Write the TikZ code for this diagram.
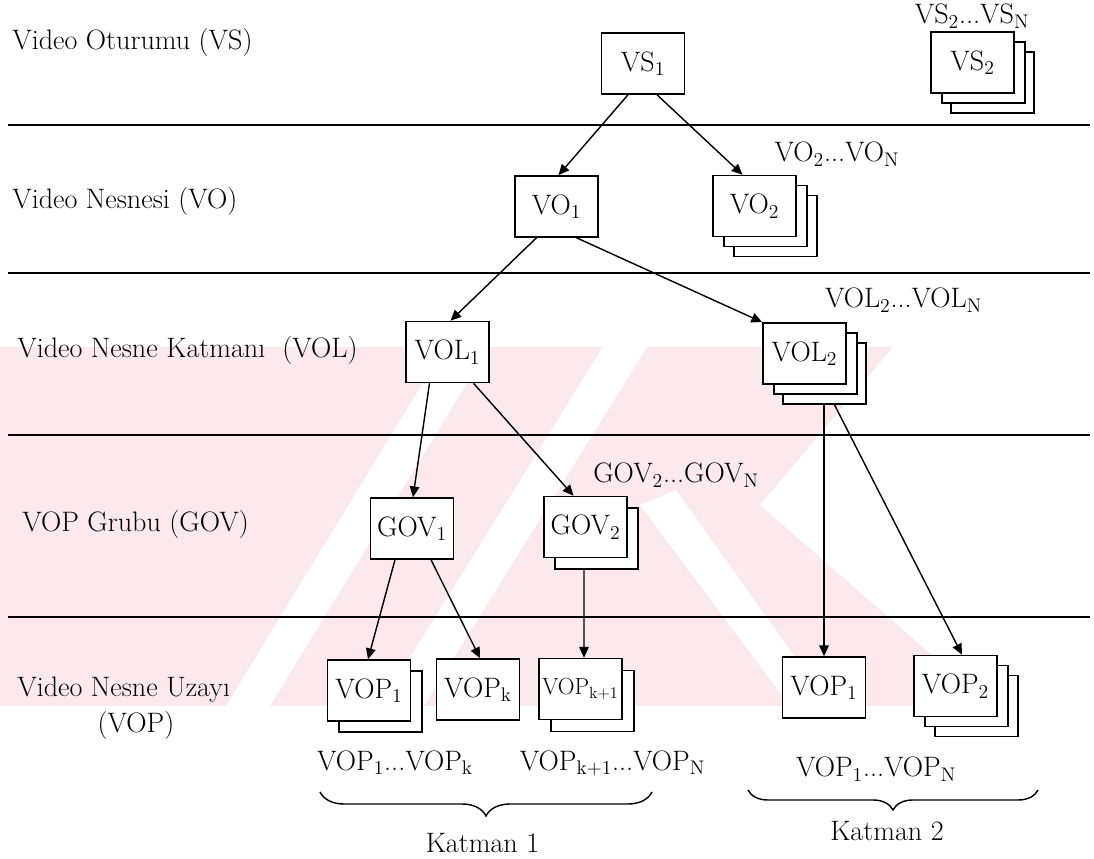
\documentclass[tikz,border=0pt]{standalone}
\usetikzlibrary{arrows.meta,decorations.pathreplacing,calc}
\definecolor{wmpink}{RGB}{252,233,237}
\begin{document}
\begin{tikzpicture}[x=0.025cm,y=-0.025cm,
  lbl/.style={font=\fontsize{20}{24}\selectfont, inner sep=0pt},
  txt/.style={font=\fontsize{20}{24}\selectfont, inner sep=0pt},
  bx/.style={draw, fill=white, line width=1.1pt, minimum width=2.075cm, minimum height=1.525cm, inner sep=0pt, font=\fontsize{20}{24}\selectfont},
  arr/.style={line width=1pt, -{Triangle[length=0.27cm,width=0.24cm]}},
  sep/.style={line width=1.1pt},
  brc/.style={line width=1pt, decorate, decoration={brace, mirror, amplitude=#1}},
  wm/.style={fill=wmpink, draw=none},
  wmgap/.style={fill=white, draw=none},
]
\useasboundingbox (0,0) rectangle (1094,859);

% faint watermark in the background
\fill[wm] (0,347) -- (893,347) -- (760,505) -- (990,706) -- (0,706) -- cycle;
\fill[wmgap] (226,706) -- (270,706) -- (489,347) -- (445,347) -- cycle;
\fill[wmgap] (380,706) -- (424,706) -- (647,347) -- (603,347) -- cycle;
\fill[wmgap] (640,505) -- (676,490) -- (830,706) -- (790,706) -- cycle;

% separator lines
\coordinate (h1l) at (8,125);  \coordinate (h1r) at (1090,125);
\coordinate (h2l) at (8,273);  \coordinate (h2r) at (1090,273);
\coordinate (h3l) at (8,435);  \coordinate (h3r) at (1090,435);
\coordinate (h4l) at (8,617);  \coordinate (h4r) at (1090,617);
\draw[sep] (h1l) -- (h1r);
\draw[sep] (h2l) -- (h2r);
\draw[sep] (h3l) -- (h3r);
\draw[sep] (h4l) -- (h4r);

% level labels
\node[lbl, anchor=west] (l1) at (12,42) {Video Oturumu (VS)};
\node[lbl, anchor=west] (l2) at (12,201) {Video Nesnesi (VO)};
\node[lbl, anchor=west] (l3) at (17,350) {Video Nesne Katmanı\ \ (VOL)};
\node[lbl, anchor=west] (l4) at (22,524) {VOP Grubu (GOV)};
\node[lbl, anchor=west] (l5) at (17,690) {Video Nesne Uzayı};
\node[lbl] (l6) at (136,725) {(VOP)};

% VS level
\node[bx] (vs1) at (643,63.5) {VS\textsubscript{1}};
\node[bx] (vs2c) at (992.5,82.5) {};
\node[bx] (vs2b) at (983.5,72.5) {};
\node[bx] (vs2) at (972.5,62.5) {VS\textsubscript{2}};
\node[txt, anchor=base] (vs2t) at (972,24) {VS\textsubscript{2}...VS\textsubscript{N}};

% VO level
\node[bx] (vo1) at (556.5,206.5) {VO\textsubscript{1}};
\node[bx] (vo2c) at (775.5,226) {};
\node[bx] (vo2b) at (765.5,216) {};
\node[bx] (vo2) at (754.5,206) {VO\textsubscript{2}};
\node[txt, anchor=base] (vo2t) at (837,162) {VO\textsubscript{2}...VO\textsubscript{N}};

% VOL level
\node[bx] (vol1) at (447.5,352) {VOL\textsubscript{1}};
\node[bx] (vol2c) at (824.5,373.5) {};
\node[bx] (vol2b) at (815.5,363.5) {};
\node[bx] (vol2) at (804.5,353.5) {VOL\textsubscript{2}};
\node[txt, anchor=base] (vol2t) at (903.5,308) {VOL\textsubscript{2}...VOL\textsubscript{N}};

% GOV level
\node[bx] (gov1) at (412,528.5) {GOV\textsubscript{1}};
\node[bx] (gov2b) at (596.5,538.5) {};
\node[bx] (gov2) at (585.5,527) {GOV\textsubscript{2}};
\node[txt, anchor=base west] (gov2t) at (593,483) {GOV\textsubscript{2}...GOV\textsubscript{N}};

% VOP level
\node[bx] (vop1lb) at (380.5,701.5) {};
\node[bx] (vop1l) at (369,690.5) {VOP\textsubscript{1}};
\node[bx] (vopk) at (478,689.5) {VOP\textsubscript{k}};
\node[bx] (vopkkb) at (592.5,701) {};
\node[bx, font=\fontsize{16.5}{20}\selectfont] (vopkk) at (580.5,689) {VOP\textsubscript{k+1}};
\node[bx] (vop1r) at (824,687.5) {VOP\textsubscript{1}};
\node[bx] (vop2rc) at (976.5,706) {};
\node[bx] (vop2rb) at (966.5,696) {};
\node[bx] (vop2r) at (955.5,686) {VOP\textsubscript{2}};

\node[txt, anchor=base] (g1a) at (395,770) {VOP\textsubscript{1}...VOP\textsubscript{k}};
\node[txt, anchor=base] (g1b) at (612.5,770) {VOP\textsubscript{k+1}...VOP\textsubscript{N}};
\node[txt, anchor=base] (g2) at (876,777) {VOP\textsubscript{1}...VOP\textsubscript{N}};

% braces
\coordinate (b1l) at (320,792); \coordinate (b1r) at (652,792);
\coordinate (b2l) at (748,790); \coordinate (b2r) at (1038,790);
\draw[brc=0.6cm] (b1l) -- (b1r);
\draw[brc=0.5cm] (b2l) -- (b2r);
\node[lbl, anchor=base] (k1) at (482.5,852) {Katman 1};
\node[lbl, anchor=base] (k2) at (887,840) {Katman 2};

% connectors
\draw[arr] ($(vs1.south)+(-15,0)$) -- ($(vo1.north)+(2,0)$);
\draw[arr] ($(vs1.south)+(14,0)$) -- ($(vo2.north)+(-12,0)$);
\draw[arr] ($(vo1.south)+(-20,0)$) -- ($(vol1.north)+(3,0)$);
\draw[arr] ($(vo1.south)+(20,0)$) -- (vol2.north west);
\draw[arr] ($(vol1.south)+(-18,0)$) -- ($(gov1.north)+(1,0)$);
\draw[arr] ($(vol1.south)+(26,0)$) -- ($(gov2.north)+(-12,0)$);
\draw[arr] ($(gov1.south)+(-17,0)$) -- ($(vop1l.north)+(-1,0)$);
\draw[arr] ($(gov1.south)+(19,0)$) -- ($(vopk.north)+(2,0)$);
\draw[arr] ($(gov2b.south)+(-12.5,0)$) -- ($(vopkk.north)+(3.5,0)$);
\draw[arr] ($(vol2c.south)+(-0.5,0)$) -- (vop1r.north);
\draw[arr] ($(vol2c.south)+(10,0)$) -- ($(vop2r.north)+(6.5,0)$);
\end{tikzpicture}
\end{document}
